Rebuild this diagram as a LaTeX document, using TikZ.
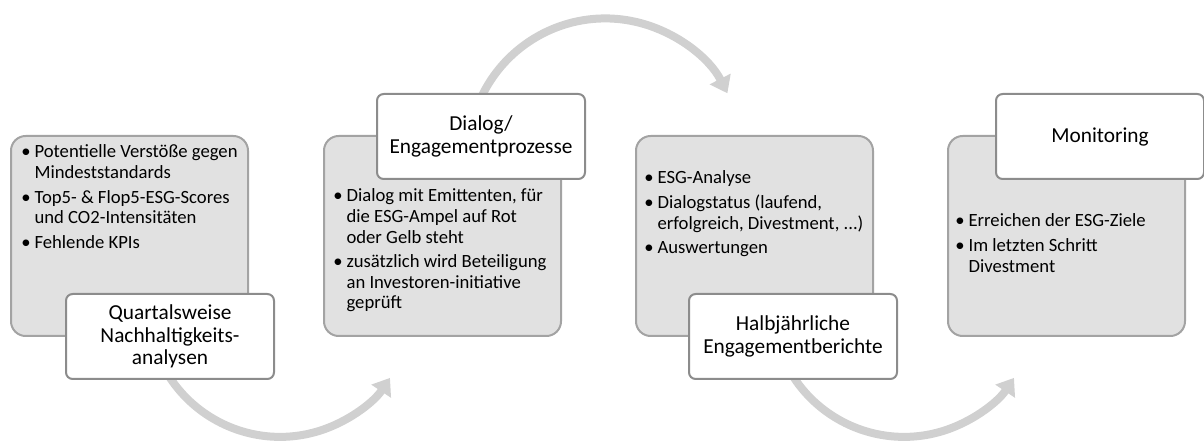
\documentclass[tikz,border=0pt]{standalone}
\usepackage{fontspec}
\setmainfont{Carlito}
\usetikzlibrary{arrows.meta}
\definecolor{boxfill}{HTML}{E1E1E1}
\definecolor{boxline}{HTML}{A3A3A3}
\definecolor{labline}{HTML}{8C8C8C}
\definecolor{arccol}{HTML}{D0D0D0}
\newcommand{\bul}{\textbullet}
\begin{document}
\begin{tikzpicture}[x=0.75pt,y=-0.75pt,
  stepbox/.style={draw=boxline,fill=boxfill,line width=1.5pt,rounded corners=11pt,anchor=north west,minimum width=177.75pt,minimum height=150pt,inner sep=0pt},
  titlebox/.style={draw=labline,fill=white,line width=1.5pt,rounded corners=5pt,anchor=north west,minimum width=156pt,minimum height=63.75pt,inner sep=0pt,align=center,font=\fontsize{16}{17}\selectfont},
  itemtext/.style={anchor=base west,inner sep=0pt,font=\fontsize{14}{15.4}\selectfont},
  flowarc/.style={draw=arccol,line width=6pt,-{Triangle[width=17pt,length=12pt]}}]
\useasboundingbox (0,0) rectangle (1204,445);
\coordinate (arcA) at (156,350);
\coordinate (arcB) at (473,120);
\coordinate (arcC) at (780,350);
\draw[flowarc] (arcA) arc[start angle=160,end angle=33.6,radius=132];
\draw[flowarc] (arcB) arc[start angle=-165,end angle=-27,radius=137];
\draw[flowarc] (arcC) arc[start angle=160,end angle=33.6,radius=132];
\node[stepbox] (boxA) at (10,135) {};
\node[stepbox] (boxB) at (323,135) {};
\node[stepbox] (boxC) at (635,135) {};
\node[stepbox] (boxD) at (947,135) {};
\node[itemtext] (txtA) at (21,158) {\begin{tabular}[t]{@{}l@{\hspace{3pt}}l@{}}
\bul & Potentielle Verstöße gegen\\ & Mindeststandards\\[3pt]
\bul & Top5- \& Flop5-ESG-Scores\\ & und CO2-Intensitäten\\[3pt]
\bul & Fehlende KPIs\end{tabular}};
\node[itemtext] (txtB) at (333,202) {\begin{tabular}[t]{@{}l@{\hspace{3pt}}l@{}}
\bul & Dialog mit Emittenten, für\\ & die ESG-Ampel auf Rot\\ & oder Gelb steht\\[3pt]
\bul & zusätzlich wird Beteiligung\\ & an Investoren-initiative\\ & geprüft\end{tabular}};
\node[itemtext] (txtC) at (644,184) {\begin{tabular}[t]{@{}l@{\hspace{3pt}}l@{}}
\bul & ESG-Analyse\\[3pt]
\bul & Dialogstatus (laufend,\\ & erfolgreich, Divestment, ...)\\[3pt]
\bul & Auswertungen\end{tabular}};
\node[itemtext] (txtD) at (955,227) {\begin{tabular}[t]{@{}l@{\hspace{3pt}}l@{}}
\bul & Erreichen der ESG-Ziele\\[3pt]
\bul & Im letzten Schritt\\ & Divestment\end{tabular}};
\node[titlebox] (labA) at (65,293) {Quartalsweise\\Nachhaltigkeits-\\analysen};
\node[titlebox] (labB) at (376,93) {Dialog/\\Engagementprozesse};
\node[titlebox] (labC) at (688,293) {Halbjährliche\\Engagementberichte};
\node[titlebox] (labD) at (995,93) {Monitoring};
\end{tikzpicture}
\end{document}
